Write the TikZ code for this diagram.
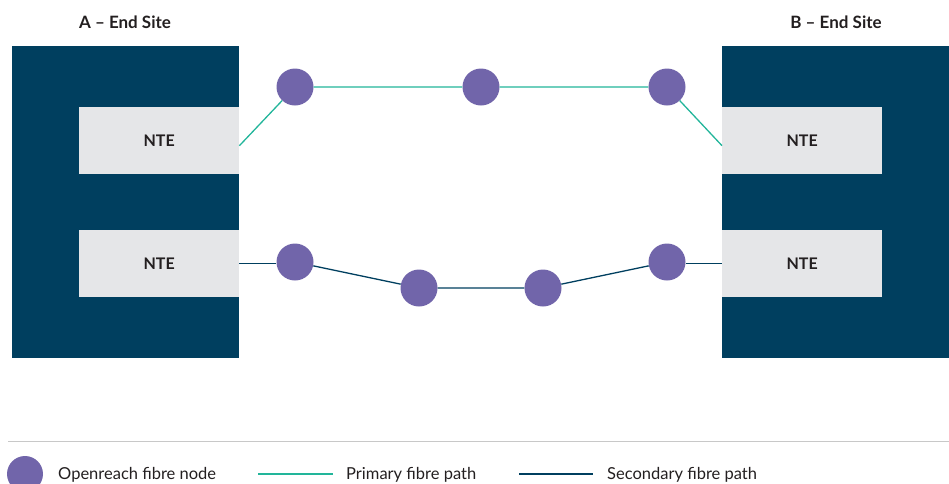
\documentclass[tikz,border=0pt]{standalone}
\usepackage{fontspec}
\setmainfont{Lato}
\definecolor{sitenavy}{RGB}{0,63,95}
\definecolor{ntegrey}{RGB}{229,230,232}
\definecolor{nodepurple}{RGB}{113,101,170}
\definecolor{fibreteal}{RGB}{34,181,154}
\definecolor{inkgrey}{RGB}{35,31,32}
\definecolor{rulegrey}{RGB}{200,200,200}

\begin{document}
\begin{tikzpicture}[x=1pt, y=-1pt, line cap=butt,
  site/.style={fill=sitenavy},
  nte/.style={fill=ntegrey, anchor=north west, minimum width=160pt,
    minimum height=67pt, inner sep=0pt, text=inkgrey,
    font=\bfseries\fontsize{16}{18}\selectfont},
  sitetitle/.style={text=inkgrey, font=\bfseries\fontsize{17}{19}\selectfont},
  fnode/.style={circle, fill=nodepurple, minimum size=37pt, inner sep=0pt},
  primary/.style={draw=fibreteal, line width=1.3pt},
  secondary/.style={draw=sitenavy, line width=1.3pt},
  legendtext/.style={anchor=base west, inner sep=0pt, text=inkgrey,
    font=\fontsize{16.5}{18}\selectfont}]
  \useasboundingbox (0,0) rectangle (949,483);
  % end sites
  \fill[site] (12,46) rectangle (239,358);
  \fill[site] (722,46) rectangle (949,358);
  \node[sitetitle] (titlea) at (125,22) {A -- End Site};
  \node[sitetitle] (titleb) at (836,22) {B -- End Site};
  % NTEs
  \node[nte] (ntea1) at (79,107) {NTE};
  \node[nte] (ntea2) at (79,230) {NTE};
  \node[nte] (nteb1) at (722,107) {NTE};
  \node[nte] (nteb2) at (722,230) {NTE};
  % fibre nodes
  \foreach \n/\x/\y in {p1/295/87, p2/481/87, p3/667/87,
                        s1/295/262, s2/419/288, s3/543/288, s4/667/262} {
    \node[fnode] (\n) at (\x,\y) {};
  }
  % primary path
  \draw[primary] ([yshift=-5pt]ntea1.east) -- (p1) -- (p2) -- (p3)
    -- ([yshift=-5pt]nteb1.west);
  % secondary path
  \draw[secondary] (ntea2.east) -- (ntea2.east -| s1.west);
  \draw[secondary] (s1) -- (s2) -- (s3) -- (s4);
  \draw[secondary] (nteb2.west -| s4.east) -- (nteb2.west);
  % legend
  \coordinate (rulel) at (8,441.5);
  \coordinate (ruler) at (949,441.5);
  \draw[rulegrey, line width=1pt] (rulel) -- (ruler);
  \node[fnode, minimum size=36pt] (keynode) at (25,474) {};
  \node[legendtext] (keynodetext) at (58,479) {Openreach fibre node};
  \coordinate (keyp1) at (258,474);
  \coordinate (keyp2) at (333,474);
  \draw[primary] (keyp1) -- (keyp2);
  \node[legendtext] (keyptext) at (346,479) {Primary fibre path};
  \coordinate (keys1) at (519,474);
  \coordinate (keys2) at (593,474);
  \draw[secondary] (keys1) -- (keys2);
  \node[legendtext] (keystext) at (607,479) {Secondary fibre path};
\end{tikzpicture}
\end{document}
